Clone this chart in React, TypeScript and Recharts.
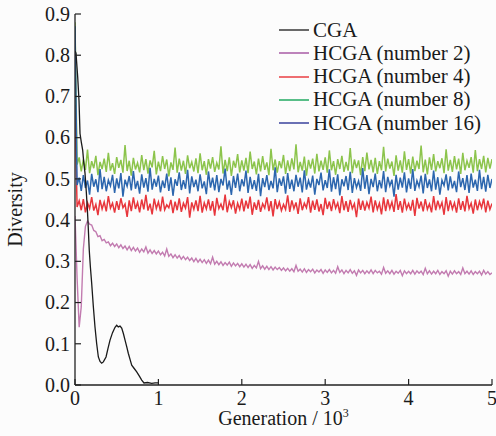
import React from 'react';
import { LineChart, Line, XAxis, YAxis, Legend } from 'recharts';

// Generation grid (in units of 10^3) for the HCGA runs: one sample every 25 generations
const hcgaGen: number[] = Array.from({ length: 201 }, (_, i) => i * 0.025);

const hcga8: number[] = [
  0.88, 0.535, 0.552, 0.518, 0.547, 0.522, 0.571, 0.514, 0.543, 0.526, 0.556, 0.509, 0.541, 0.524, 0.549, 0.517, 0.563, 0.52, 0.538, 0.512,
  0.553, 0.527, 0.546, 0.515, 0.582, 0.519, 0.544, 0.508, 0.551, 0.523, 0.539, 0.516, 0.558, 0.521, 0.548, 0.513, 0.545, 0.528, 0.568, 0.511,
  0.542, 0.519, 0.555, 0.524, 0.547, 0.506, 0.54, 0.522, 0.576, 0.515, 0.549, 0.52, 0.544, 0.512, 0.557, 0.526, 0.541, 0.518, 0.55, 0.514,
  0.562, 0.521, 0.543, 0.51, 0.548, 0.525, 0.553, 0.517, 0.539, 0.523, 0.579, 0.513, 0.546, 0.519, 0.552, 0.507, 0.544, 0.527, 0.56, 0.516,
  0.545, 0.52, 0.551, 0.514, 0.566, 0.524, 0.542, 0.511, 0.549, 0.518, 0.555, 0.522, 0.54, 0.509, 0.573, 0.521, 0.547, 0.515, 0.543, 0.526,
  0.558, 0.512, 0.545, 0.519, 0.55, 0.523, 0.584, 0.516, 0.541, 0.52, 0.554, 0.508, 0.546, 0.525, 0.549, 0.513, 0.561, 0.518, 0.544, 0.522,
  0.552, 0.515, 0.569, 0.521, 0.543, 0.51, 0.548, 0.524, 0.556, 0.517, 0.541, 0.52, 0.575, 0.514, 0.547, 0.526, 0.545, 0.509, 0.553, 0.519,
  0.564, 0.523, 0.546, 0.516, 0.551, 0.512, 0.543, 0.521, 0.578, 0.518, 0.549, 0.525, 0.542, 0.507, 0.557, 0.52, 0.545, 0.515, 0.567, 0.522,
  0.548, 0.513, 0.554, 0.519, 0.544, 0.524, 0.581, 0.516, 0.547, 0.511, 0.552, 0.522, 0.56, 0.518, 0.543, 0.526, 0.55, 0.514, 0.572, 0.52,
  0.546, 0.517, 0.555, 0.523, 0.549, 0.512, 0.563, 0.521, 0.544, 0.527, 0.553, 0.515, 0.57, 0.519, 0.548, 0.524, 0.556, 0.516, 0.551, 0.525,
  0.548,
];

const hcga16: number[] = [
  0.87, 0.485, 0.503, 0.471, 0.509, 0.478, 0.496, 0.462, 0.512, 0.481, 0.499, 0.468, 0.524, 0.475, 0.505, 0.47, 0.497, 0.483, 0.51, 0.466,
  0.501, 0.477, 0.514, 0.457, 0.498, 0.482, 0.507, 0.472, 0.519, 0.476, 0.495, 0.464, 0.511, 0.479, 0.502, 0.469, 0.527, 0.474, 0.5, 0.481,
  0.508, 0.467, 0.496, 0.478, 0.513, 0.471, 0.504, 0.459, 0.499, 0.483, 0.516, 0.473, 0.497, 0.476, 0.522, 0.465, 0.506, 0.48, 0.498, 0.47,
  0.511, 0.477, 0.494, 0.463, 0.518, 0.479, 0.503, 0.472, 0.509, 0.468, 0.5, 0.484, 0.525, 0.474, 0.496, 0.461, 0.507, 0.478, 0.513, 0.47,
  0.499, 0.482, 0.52, 0.466, 0.505, 0.475, 0.497, 0.471, 0.512, 0.458, 0.502, 0.48, 0.509, 0.473, 0.495, 0.477, 0.528, 0.468, 0.501, 0.483,
  0.506, 0.464, 0.514, 0.476, 0.498, 0.47, 0.51, 0.481, 0.503, 0.467, 0.521, 0.474, 0.496, 0.479, 0.508, 0.462, 0.5, 0.485, 0.515, 0.472,
  0.497, 0.478, 0.523, 0.469, 0.504, 0.475, 0.511, 0.46, 0.499, 0.482, 0.507, 0.473, 0.517, 0.466, 0.502, 0.479, 0.495, 0.471, 0.526, 0.476,
  0.509, 0.463, 0.5, 0.48, 0.513, 0.47, 0.497, 0.477, 0.519, 0.468, 0.505, 0.483, 0.498, 0.457, 0.51, 0.474, 0.503, 0.479, 0.516, 0.467,
  0.501, 0.476, 0.524, 0.471, 0.496, 0.481, 0.508, 0.465, 0.512, 0.478, 0.499, 0.47, 0.52, 0.474, 0.504, 0.462, 0.497, 0.484, 0.511, 0.472,
  0.506, 0.477, 0.495, 0.468, 0.518, 0.48, 0.502, 0.473, 0.509, 0.466, 0.513, 0.479, 0.498, 0.471, 0.522, 0.475, 0.505, 0.469, 0.51, 0.478,
  0.5,
];

const hcga4: number[] = [
  0.68, 0.432, 0.447, 0.424, 0.451, 0.419, 0.442, 0.428, 0.456, 0.423, 0.438, 0.412, 0.449, 0.427, 0.444, 0.421, 0.458, 0.429, 0.441, 0.418,
  0.446, 0.425, 0.453, 0.43, 0.439, 0.408, 0.448, 0.422, 0.455, 0.427, 0.443, 0.419, 0.45, 0.426, 0.461, 0.423, 0.44, 0.414, 0.452, 0.428,
  0.444, 0.421, 0.457, 0.425, 0.437, 0.43, 0.449, 0.417, 0.445, 0.424, 0.453, 0.42, 0.441, 0.429, 0.456, 0.406, 0.443, 0.426, 0.448, 0.422,
  0.459, 0.418, 0.442, 0.427, 0.45, 0.423, 0.446, 0.411, 0.454, 0.428, 0.439, 0.424, 0.462, 0.419, 0.445, 0.43, 0.448, 0.416, 0.441, 0.426,
  0.452, 0.421, 0.447, 0.428, 0.457, 0.413, 0.443, 0.425, 0.449, 0.42, 0.44, 0.429, 0.455, 0.422, 0.446, 0.409, 0.451, 0.427, 0.444, 0.423,
  0.438, 0.426, 0.46, 0.42, 0.448, 0.428, 0.443, 0.415, 0.453, 0.424, 0.441, 0.43, 0.456, 0.418, 0.447, 0.425, 0.45, 0.421, 0.439, 0.412,
  0.454, 0.427, 0.445, 0.422, 0.451, 0.429, 0.442, 0.417, 0.458, 0.424, 0.446, 0.42, 0.449, 0.428, 0.44, 0.407, 0.452, 0.425, 0.447, 0.423,
  0.443, 0.429, 0.457, 0.419, 0.448, 0.426, 0.441, 0.414, 0.455, 0.422, 0.45, 0.428, 0.444, 0.42, 0.463, 0.425, 0.446, 0.418, 0.452, 0.427,
  0.44, 0.423, 0.449, 0.41, 0.454, 0.428, 0.445, 0.421, 0.451, 0.426, 0.439, 0.419, 0.458, 0.424, 0.447, 0.429, 0.443, 0.413, 0.456, 0.422,
  0.448, 0.427, 0.442, 0.418, 0.453, 0.425, 0.446, 0.421, 0.459, 0.428, 0.441, 0.416, 0.45, 0.424, 0.445, 0.43, 0.452, 0.419, 0.447, 0.426,
  0.44,
];

const hcga2: number[] = [
  0.41, 0.26, 0.14, 0.19, 0.33, 0.385, 0.398, 0.39, 0.388, 0.375, 0.372, 0.36, 0.362, 0.35, 0.353, 0.345, 0.347, 0.338, 0.344, 0.336,
  0.342, 0.333, 0.34, 0.331, 0.337, 0.328, 0.336, 0.326, 0.334, 0.325, 0.332, 0.322, 0.33, 0.323, 0.335, 0.32, 0.328, 0.319, 0.326, 0.318,
  0.325, 0.316, 0.322, 0.313, 0.33, 0.312, 0.318, 0.309, 0.316, 0.308, 0.314, 0.305, 0.312, 0.304, 0.31, 0.302, 0.308, 0.299, 0.307, 0.298,
  0.305, 0.297, 0.304, 0.295, 0.303, 0.294, 0.31, 0.293, 0.3, 0.292, 0.299, 0.29, 0.297, 0.291, 0.298, 0.288, 0.296, 0.289, 0.295, 0.287,
  0.294, 0.286, 0.293, 0.285, 0.292, 0.283, 0.29, 0.284, 0.3, 0.282, 0.289, 0.281, 0.288, 0.28, 0.287, 0.279, 0.286, 0.28, 0.285, 0.278,
  0.284, 0.277, 0.283, 0.276, 0.282, 0.275, 0.29, 0.276, 0.281, 0.274, 0.282, 0.273, 0.28, 0.275, 0.281, 0.272, 0.279, 0.274, 0.28, 0.271,
  0.279, 0.273, 0.28, 0.272, 0.278, 0.271, 0.287, 0.273, 0.279, 0.27, 0.278, 0.272, 0.28, 0.271, 0.277, 0.266, 0.279, 0.272, 0.278, 0.27,
  0.277, 0.271, 0.279, 0.27, 0.278, 0.272, 0.276, 0.269, 0.285, 0.271, 0.277, 0.27, 0.278, 0.269, 0.276, 0.271, 0.278, 0.265, 0.277, 0.27,
  0.276, 0.27, 0.278, 0.269, 0.277, 0.271, 0.276, 0.268, 0.283, 0.27, 0.277, 0.269, 0.276, 0.27, 0.278, 0.268, 0.275, 0.27, 0.277, 0.264,
  0.276, 0.269, 0.277, 0.27, 0.275, 0.268, 0.284, 0.27, 0.276, 0.269, 0.277, 0.268, 0.275, 0.27, 0.276, 0.267, 0.278, 0.269, 0.275, 0.268,
  0.272,
];

// CGA run (generation in 10^3)
const cgaGen: number[] = [
  0, 0.012, 0.032, 0.048, 0.06, 0.075, 0.092, 0.105, 0.12, 0.135, 0.147, 0.155, 0.171, 0.185, 0.2, 0.22, 0.24, 0.26, 0.28,
  0.3, 0.32, 0.34, 0.372, 0.395, 0.42, 0.45, 0.48, 0.5, 0.519, 0.54, 0.56, 0.58, 0.6, 0.62, 0.639, 0.66, 0.68, 0.71, 0.74,
  0.77, 0.8, 0.827, 0.87, 0.92, 0.96, 1.0,
];
const cgaVal: number[] = [
  0.81, 0.805, 0.748, 0.69, 0.61, 0.59, 0.57, 0.54, 0.514, 0.47, 0.43, 0.4, 0.327, 0.285, 0.247, 0.19, 0.14, 0.1, 0.068,
  0.057, 0.053, 0.056, 0.068, 0.088, 0.109, 0.127, 0.14, 0.145, 0.141, 0.143, 0.138, 0.125, 0.109, 0.093, 0.077, 0.062, 0.048, 0.04, 0.032,
  0.022, 0.012, 0.005, 0.006, 0.004, 0.005, 0.005,
];

const xTicks: number[] = [0, 1, 2, 3, 4, 5];
const yTicks: number[] = [0, 0.1, 0.2, 0.3, 0.4, 0.5, 0.6, 0.7, 0.8, 0.9];

const seriesNames: string[] = ['CGA', 'HCGA (number 2)', 'HCGA (number 4)', 'HCGA (number 8)', 'HCGA (number 16)'];
const plotColors: string[] = ['#1a1a1a', '#c27bb0', '#e8363c', '#8cc44c', '#2c66ae'];
const legendColors: string[] = ['#2a2a2a', '#a24fa0', '#e83236', '#12a456', '#2c3495'];

const hcgaData = hcgaGen.map((g, i) => ({ g, h2: hcga2[i], h4: hcga4[i], h8: hcga8[i], h16: hcga16[i] }));
const cgaData = cgaGen.map((g, i) => ({ g, cga: cgaVal[i] }));

const FONT = '"Liberation Serif", "Times New Roman", serif';
const AXIS = '#222';

const YTick = (props: any) => {
  const { x, y, payload } = props;
  return (
    <g>
      <line x1={x + 5} x2={x + 11} y1={y} y2={y} stroke={AXIS} strokeWidth={1.2} />
      <text x={x} y={y} dy="0.34em" textAnchor="end" fontFamily={FONT} fontSize={20} fill="#1a1a1a">
        {Number(payload.value).toFixed(1)}
      </text>
    </g>
  );
};

const XTick = (props: any) => {
  const { x, y, payload } = props;
  return (
    <g>
      <line x1={x} x2={x} y1={y - 6} y2={y - 12} stroke={AXIS} strokeWidth={1.2} />
      <text x={x} y={y} dy="0.71em" textAnchor="middle" fontFamily={FONT} fontSize={20} fill="#1a1a1a">
        {payload.value}
      </text>
    </g>
  );
};

const XLabel = (props: any) => {
  const { viewBox } = props;
  const cx = viewBox.x + viewBox.width / 2;
  return (
    <text x={cx} y={viewBox.y + 40} textAnchor="middle" fontFamily={FONT} fontSize={20} fill="#1a1a1a">
      Generation / 10
      <tspan fontSize={12} dy={-8}>3</tspan>
    </text>
  );
};

const YLabel = (props: any) => {
  const { viewBox } = props;
  const cy = viewBox.y + viewBox.height / 2 + 10;
  const x = 22;
  return (
    <text x={x} y={cy} transform={`rotate(-90 ${x} ${cy})`} textAnchor="middle" fontFamily={FONT} fontSize={20} fill="#1a1a1a">
      Diversity
    </text>
  );
};

const LegendBox = () => (
  <div style={{ fontFamily: FONT, fontSize: 21, color: '#1a1a1a' }}>
    {seriesNames.map((name, i) => (
      <div key={name} style={{ display: 'flex', alignItems: 'center', height: 23.3, lineHeight: '23.3px', whiteSpace: 'nowrap' }}>
        <svg width={34} height={4} style={{ flex: 'none' }}>
          <line x1={0} x2={30} y1={2} y2={2} stroke={legendColors[i]} strokeWidth={1.4} />
        </svg>
        <span>{name}</span>
      </div>
    ))}
  </div>
);

export default function App() {
  return (
    <div style={{ position: 'absolute', left: 0, top: 0, width: 496, height: 436, background: '#fcfcfc' }}>
      <LineChart width={496} height={436} data={hcgaData} margin={{ top: 14, right: 4, bottom: 0, left: 0 }}>
        <XAxis
          dataKey="g"
          type="number"
          domain={[0, 5]}
          ticks={xTicks}
          allowDataOverflow
          height={51}
          tickSize={0}
          tickMargin={6}
          tickLine={false}
          axisLine={{ stroke: AXIS, strokeWidth: 1.3 }}
          tick={<XTick />}
          label={<XLabel />}
          interval={0}
        />
        <XAxis xAxisId="top" orientation="top" dataKey="g" type="number" domain={[0, 5]} height={0} tick={false} tickLine={false} axisLine={{ stroke: AXIS, strokeWidth: 1.3 }} />
        <YAxis
          type="number"
          domain={[0, 0.9]}
          ticks={yTicks}
          allowDataOverflow
          width={75}
          tickSize={0}
          tickMargin={5}
          tickLine={false}
          axisLine={{ stroke: AXIS, strokeWidth: 1.3 }}
          tick={<YTick />}
          label={<YLabel />}
          interval={0}
        />
        <YAxis yAxisId="right" orientation="right" type="number" domain={[0, 0.9]} width={0} tick={false} tickLine={false} axisLine={{ stroke: AXIS, strokeWidth: 1.3 }} />
        <Legend
          layout="vertical"
          align="center"
          verticalAlign="middle"
          content={<LegendBox />}
          wrapperStyle={{ top: 18.5, left: 279, width: 215, height: 'auto' }}
        />
        <Line dataKey="h4" name={seriesNames[2]} stroke={plotColors[2]} strokeWidth={1.5} dot={false} activeDot={false} isAnimationActive={false} />
        <Line dataKey="h2" name={seriesNames[1]} stroke={plotColors[1]} strokeWidth={1.4} dot={false} activeDot={false} isAnimationActive={false} />
        <Line dataKey="h8" name={seriesNames[3]} stroke={plotColors[3]} strokeWidth={1.5} dot={false} activeDot={false} isAnimationActive={false} />
        <Line dataKey="h16" name={seriesNames[4]} stroke={plotColors[4]} strokeWidth={1.5} dot={false} activeDot={false} isAnimationActive={false} />
        <Line data={cgaData} dataKey="cga" name={seriesNames[0]} stroke={plotColors[0]} strokeWidth={1.3} dot={false} activeDot={false} isAnimationActive={false} />
      </LineChart>
    </div>
  );
}
